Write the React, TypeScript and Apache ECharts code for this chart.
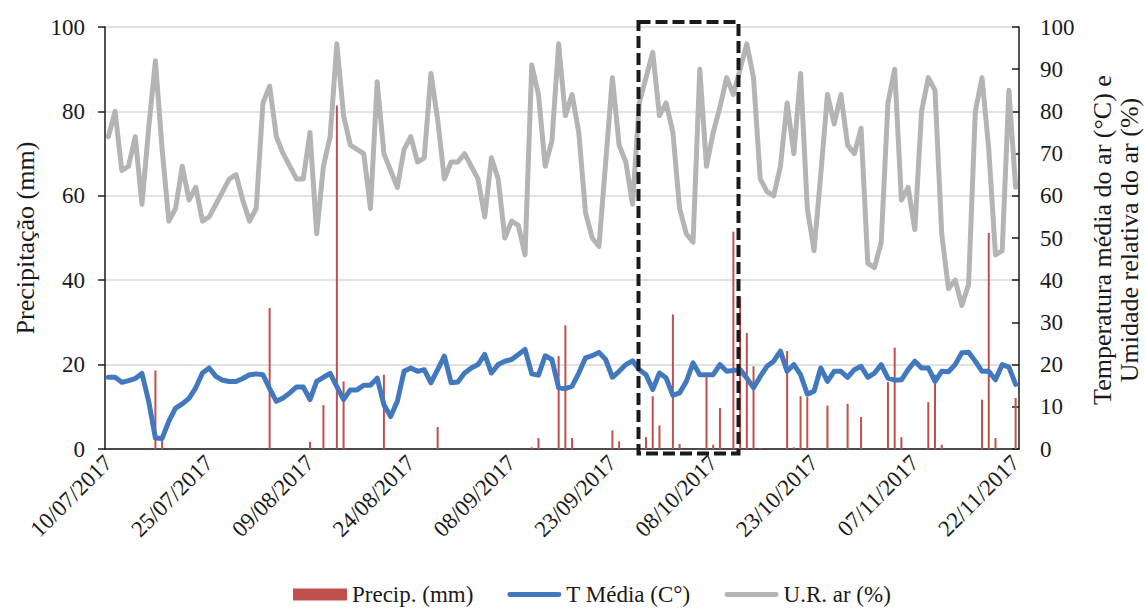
import React, { useEffect, useRef } from "react";
import * as echarts from "echarts";

// Daily dates 10/07/2017 .. 22/11/2017 (136 days)
const START = { y: 2017, m: 6, d: 10 };
const N_DAYS = 136;
const dates: string[] = (() => {
  const out: string[] = [];
  for (let i = 0; i < N_DAYS; i++) {
    const dt = new Date(START.y, START.m, START.d + i);
    const dd = String(dt.getDate()).padStart(2, "0");
    const mm = String(dt.getMonth() + 1).padStart(2, "0");
    out.push(`${dd}/${mm}/${dt.getFullYear()}`);
  }
  return out;
})();

// Precipitation (mm), one value per day
const precip: number[] = [
  0, 0, 0, 0, 0, 0, 0, 18.6, 2, 0, // 0-9
  0, 0, 0, 0, 0, 0, 0, 0, 0, 0, // 10-19
  0, 0, 0, 0, 33.4, 0, 0, 0, 0, 0, // 20-29
  1.7, 0, 10.4, 0, 81.4, 16, 0, 0, 0, 0, // 30-39
  0, 17.6, 0, 0, 0, 0, 0, 0, 0, 5.2, // 40-49
  0, 0, 0, 0, 0, 0, 0, 0, 0, 0, // 50-59
  0, 0, 0, 0.4, 2.6, 0, 0, 22, 29.3, 2.6, // 60-69
  0, 0, 0, 0, 0, 4.4, 1.8, 0, 0, 0, // 70-79
  2.8, 12.5, 5.6, 0, 31.9, 1.2, 0, 0, 0, 17.2, // 80-89
  1, 9.7, 0, 51.5, 36, 27.5, 19.6, 0.2, 0, 0, // 90-99
  0, 23.2, 0.4, 12.5, 12.3, 0, 0, 10.3, 0, 0, // 100-109
  10.7, 0, 7.6, 0, 0, 0, 15.9, 24, 2.8, 0, // 110-119
  0, 0, 11.1, 17.6, 1, 0, 0, 0, 0, 0, // 120-129
  11.7, 51.2, 2.6, 0, 0, 12.1, // 130-135
];

// Mean air temperature (°C)
const tMedia: number[] = [
  17, 17, 15.8, 16.2, 16.7, 17.9, 11.3, 2.6, 2.5, 6.6, // 0-9
  9.7, 10.7, 12, 14.5, 18, 19.2, 17.2, 16.3, 16, 16, // 10-19
  16.7, 17.6, 17.8, 17.6, 14.3, 11.3, 12.1, 13.3, 14.7, 14.7, // 20-29
  11.7, 16, 17, 17.9, 14.8, 11.7, 14, 14, 15.1, 15.1, // 30-39
  16.8, 10.5, 7.7, 11.3, 18.4, 19.2, 18.4, 18.8, 15.7, 18.8, // 40-49
  22, 15.7, 15.9, 18, 19.2, 20, 22.4, 18, 20, 20.8, // 50-59
  21.2, 22.4, 23.6, 17.8, 17.5, 22.1, 21.2, 14.5, 14.3, 14.9, // 60-69
  18, 21.6, 22.1, 22.9, 21.2, 17, 18.4, 20, 20.9, 18.8, // 70-79
  17.6, 14.1, 18, 16.8, 12.7, 13.3, 16, 20.4, 17.6, 17.6, // 80-89
  17.6, 20, 18.4, 18.6, 18.8, 16.8, 14.5, 17.2, 19.6, 20.8, // 90-99
  23.2, 18.4, 20, 17.6, 13, 13.7, 19.2, 16, 18.4, 18.4, // 100-109
  17, 18.8, 19.6, 17, 18, 20, 16.8, 16.3, 16.4, 18.8, // 110-119
  20.8, 19.2, 19.2, 16, 18.4, 18.3, 20, 22.8, 22.9, 20.8, // 120-129
  18.4, 18.4, 16.4, 20, 19.4, 15.3, // 130-135
];

// Relative air humidity (%)
const urAr: number[] = [
  74, 80, 66, 67, 74, 58, 76, 92, 71, 54, // 0-9
  57, 67, 59, 62, 54, 55, 58, 61, 64, 65, // 10-19
  59, 54, 57, 82, 86, 74, 70, 67, 64, 64, // 20-29
  75, 51, 67, 74, 96, 79, 72, 71, 70, 57, // 30-39
  87, 70, 66, 62, 71, 74, 68, 69, 89, 78, // 40-49
  64, 68, 68, 70, 67, 64, 55, 69, 64, 50, // 50-59
  54, 53, 46, 91, 84, 67, 73, 96, 79, 84, // 60-69
  75, 56, 50, 48, 68, 88, 72, 68, 58, 82, // 70-79
  88, 94, 79, 82, 75, 57, 51, 49, 90, 67, // 80-89
  75, 81, 88, 84, 90, 96, 88, 64, 61, 60, // 90-99
  67, 82, 70, 89, 57, 47, 65, 84, 77, 84, // 100-109
  72, 70, 76, 44, 43, 49, 82, 90, 59, 62, // 110-119
  52, 80, 88, 85, 51, 38, 40, 34, 39, 80, // 120-129
  88, 71, 46, 47, 85, 62, // 130-135
];

const leftTicks = { min: 0, max: 100, interval: 20 };
const rightTicks = { min: 0, max: 100, interval: 10 };

const FONT = '"Liberation Serif", "Times New Roman", serif';
const TXT = "#1a1a1a";
const LINE_ICON =
  "path://M2.5,0 L52.5,0 A2.5,2.5 0 0 1 52.5,5 L2.5,5 A2.5,2.5 0 0 1 2.5,0 Z";

export default function App() {
  const ref = useRef<HTMLDivElement>(null);
  useEffect(() => {
    document.body.style.margin = "0";
    if (!ref.current) return;
    const chart = echarts.init(ref.current, null, { renderer: "svg" });
    chart.setOption({
      animation: false,
      backgroundColor: "#ffffff",
      textStyle: { fontFamily: FONT, color: TXT },
      grid: { left: 105, right: 126, top: 27, bottom: 161, containLabel: false },
      legend: {
        left: 288,
        top: 578,
        itemWidth: 54,
        itemHeight: 12,
        itemGap: 34,
        symbolKeepAspect: true,
        textStyle: { fontFamily: FONT, fontSize: 23, color: TXT },
        data: [
          { name: "Precip. (mm)", icon: "rect" },
          { name: "T Média (C°)", icon: LINE_ICON },
          { name: "U.R. ar (%)", icon: LINE_ICON },
        ],
      },
      xAxis: {
        type: "category",
        data: dates,
        boundaryGap: true,
        axisLine: { lineStyle: { color: TXT, width: 1.5 } },
        axisTick: { interval: 14, length: 7, lineStyle: { color: TXT, width: 1.5 } },
        axisLabel: {
          interval: 14,
          rotate: 45,
          margin: 10,
          fontSize: 23,
          fontFamily: FONT,
          color: TXT,
        },
        splitLine: { show: false },
      },
      yAxis: [
        {
          type: "value",
          position: "left",
          ...leftTicks,
          axisLine: { show: true, lineStyle: { color: TXT, width: 1.5 } },
          axisTick: { show: true, length: 7, lineStyle: { color: TXT, width: 1.5 } },
          axisLabel: { margin: 20, fontSize: 23, fontFamily: FONT, color: TXT },
          splitLine: { show: true, lineStyle: { color: "#d9d9d9", width: 1.5 } },
        },
        {
          type: "value",
          position: "right",
          ...rightTicks,
          axisLine: { show: true, lineStyle: { color: TXT, width: 1.5 } },
          axisTick: { show: true, inside: true, length: 7, lineStyle: { color: TXT, width: 1.5 } },
          axisLabel: { margin: 21, fontSize: 23, fontFamily: FONT, color: TXT },
          splitLine: { show: false },
        },
      ],
      series: [
        {
          name: "Precip. (mm)",
          type: "bar",
          yAxisIndex: 0,
          data: precip,
          barWidth: 2,
          itemStyle: { color: "#c0504d" },
          z: 1,
        },
        {
          name: "T Média (C°)",
          type: "line",
          yAxisIndex: 1,
          data: tMedia,
          symbol: "none",
          itemStyle: { color: "#4178be" },
          lineStyle: { color: "#4178be", width: 5, join: "round", cap: "round" },
          z: 2,
        },
        {
          name: "U.R. ar (%)",
          type: "line",
          yAxisIndex: 1,
          data: urAr,
          symbol: "none",
          itemStyle: { color: "#b4b4b4" },
          lineStyle: { color: "#b4b4b4", width: 5, join: "round", cap: "round" },
          z: 3,
        },
      ],
      graphic: [
        {
          type: "text",
          x: 25,
          y: 238,
          rotation: Math.PI / 2,
          style: {
            text: "Precipitação (mm)",
            fontFamily: FONT,
            fontSize: 26,
            fill: TXT,
            textAlign: "center",
            textVerticalAlign: "middle",
          },
        },
        {
          type: "text",
          x: 1116,
          y: 240,
          rotation: Math.PI / 2,
          style: {
            text: "Temperatura média do ar (°C) e\nUmidade relativa do ar (%)",
            fontFamily: FONT,
            fontSize: 26,
            lineHeight: 27,
            fill: TXT,
            textAlign: "center",
            textVerticalAlign: "middle",
          },
        },
        {
          type: "rect",
          shape: { x: 638.5, y: 22, width: 100, height: 431.5 },
          style: { fill: "none", stroke: "#1a1a1a", lineWidth: 4, lineDash: [12, 5] },
          z: 100,
        },
      ],
    });
    return () => chart.dispose();
  }, []);
  return <div ref={ref} style={{ width: 1145, height: 610 }} />;
}
